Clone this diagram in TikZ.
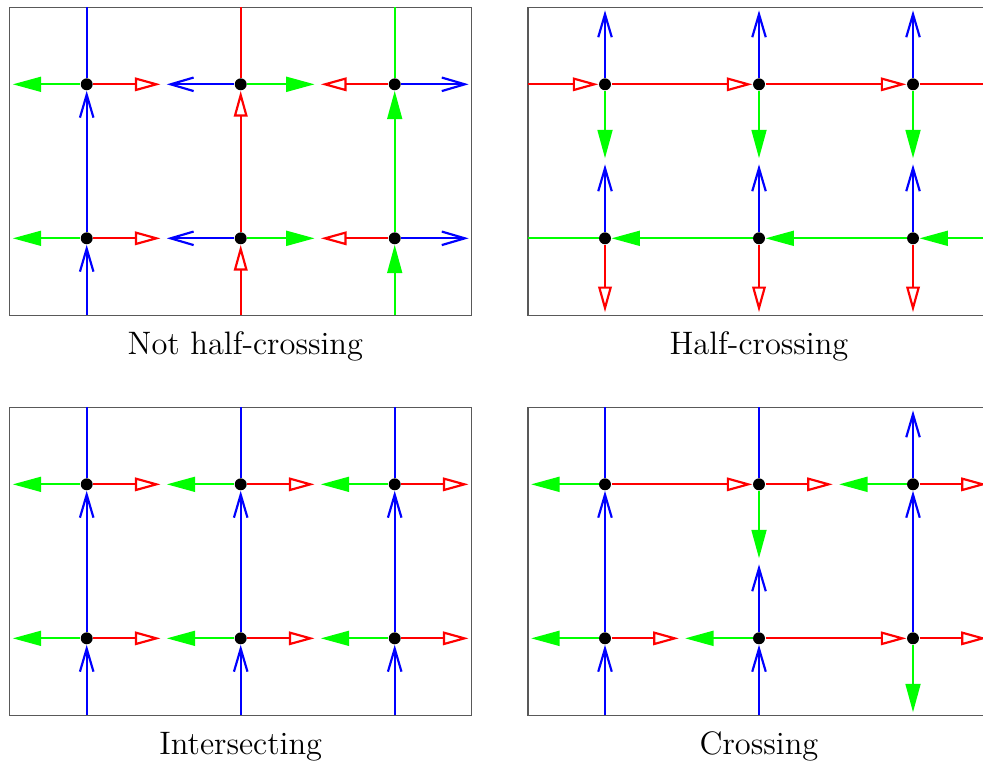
\documentclass[tikz,border=0pt]{standalone}
\usepackage{tikz}
\usetikzlibrary{arrows.meta}
\definecolor{hcblue}{RGB}{0, 0, 255}
\definecolor{hcred}{RGB}{255, 0, 0}
\definecolor{hcgreen}{RGB}{0, 255, 0}
\begin{document}
\begin{tikzpicture}[
    vtx/.style={circle, fill=black, minimum size=4.4pt, inner sep=0pt},
    frm/.style={draw=black!65, line width=0.5pt},
    blueln/.style={hcblue, line width=0.8pt},
    redln/.style={hcred, line width=0.8pt},
    grnln/.style={hcgreen, line width=0.8pt},
    bluearr/.style={blueln, -{Straight Barb[length=8.5pt, width=5pt]}},
    redarr/.style={redln, -{Triangle[open, length=9.5pt, width=5pt]}},
    grnarr/.style={grnln, -{Triangle[length=10.5pt, width=5.5pt]}},
    lbl/.style={font=\large, anchor=base}
  ]
  \useasboundingbox (0,0) rectangle (12.766,-9.922);
  \foreach \p/\ox/\oy in {a/1.126/-1.095, b/7.857/-1.095, c/1.126/-6.29, d/7.857/-6.29} {
    \foreach \i in {1,2,3} \foreach \j in {1,2} {
      \node[vtx] (\p\i\j) at (\ox+2*\i-2, \oy-2*\j+2) {};
      \coordinate (\p\i\j-w) at ([xshift=-9.6mm]\p\i\j);
      \coordinate (\p\i\j-e) at ([xshift=9.6mm]\p\i\j);
      \coordinate (\p\i\j-n) at ([yshift=9.6mm]\p\i\j);
      \coordinate (\p\i\j-s) at ([yshift=-9.6mm]\p\i\j);
    }
    \foreach \i in {1,2,3} {
      \coordinate (\p T\i) at ([yshift=1cm]\p\i1);
      \coordinate (\p B\i) at ([yshift=-1cm]\p\i2);
    }
    \foreach \j in {1,2} {
      \coordinate (\p L\j) at ([xshift=-1cm]\p1\j);
      \coordinate (\p R\j) at ([xshift=1cm]\p3\j);
    }
    \draw[frm] (\p T1 -| \p L1) rectangle (\p B3 -| \p R2);
  }

  % not half-crossing
  \foreach \j in {1,2} {
    \draw[grnarr] (a1\j) -- (a1\j-w);
    \draw[redarr] (a1\j) -- (a1\j-e);
    \draw[bluearr] (a2\j) -- (a2\j-w);
    \draw[grnarr] (a2\j) -- (a2\j-e);
    \draw[redarr] (a3\j) -- (a3\j-w);
    \draw[bluearr] (a3\j) -- (a3\j-e);
  }
  \foreach \i/\col in {1/blue, 2/red, 3/grn} {
    \draw[\col arr] (aB\i) -- (a\i2);
    \draw[\col arr] (a\i2) -- (a\i1);
    \draw[\col ln] (a\i1) -- (aT\i);
  }

  % half-crossing
  \draw[redarr] (bL1) -- (b11);
  \draw[redarr] (b11) -- (b21);
  \draw[redarr] (b21) -- (b31);
  \draw[redln] (b31) -- (bR1);
  \draw[grnarr] (bR2) -- (b32);
  \draw[grnarr] (b32) -- (b22);
  \draw[grnarr] (b22) -- (b12);
  \draw[grnln] (b12) -- (bL2);
  \foreach \i in {1,2,3} {
    \draw[bluearr] (b\i1) -- (b\i1-n);
    \draw[grnarr] (b\i1) -- (b\i1-s);
    \draw[bluearr] (b\i2) -- (b\i2-n);
    \draw[redarr] (b\i2) -- (b\i2-s);
  }

  % intersecting
  \foreach \i in {1,2,3} {
    \foreach \j in {1,2} {
      \draw[grnarr] (c\i\j) -- (c\i\j-w);
      \draw[redarr] (c\i\j) -- (c\i\j-e);
    }
    \draw[bluearr] (cB\i) -- (c\i2);
    \draw[bluearr] (c\i2) -- (c\i1);
    \draw[blueln] (c\i1) -- (cT\i);
  }

  % crossing
  \draw[bluearr] (dB1) -- (d12);
  \draw[bluearr] (d12) -- (d11);
  \draw[blueln] (d11) -- (dT1);
  \draw[blueln] (d21) -- (dT2);
  \draw[grnarr] (d21) -- (d21-s);
  \draw[bluearr] (d22) -- (d22-n);
  \draw[bluearr] (dB2) -- (d22);
  \draw[bluearr] (d31) -- (d31-n);
  \draw[bluearr] (d32) -- (d31);
  \draw[grnarr] (d32) -- (d32-s);
  \draw[grnarr] (d11) -- (d11-w);
  \draw[redarr] (d11) -- (d21);
  \draw[redarr] (d21) -- (d21-e);
  \draw[grnarr] (d31) -- (d31-w);
  \draw[redarr] (d31) -- (d31-e);
  \draw[grnarr] (d12) -- (d12-w);
  \draw[redarr] (d12) -- (d12-e);
  \draw[grnarr] (d22) -- (d22-w);
  \draw[redarr] (d22) -- (d32);
  \draw[redarr] (d32) -- (d32-e);

  \node[lbl] (capa) at ([xshift=0.6mm, yshift=-5.1mm]aB2) {Not half-crossing};
  \node[lbl] (capb) at ([yshift=-5.1mm]bB2) {Half-crossing};
  \node[lbl] (capc) at ([yshift=-5.1mm]cB2) {Intersecting};
  \node[lbl] (capd) at ([yshift=-5.1mm]dB2) {Crossing};
\end{tikzpicture}
\end{document}
